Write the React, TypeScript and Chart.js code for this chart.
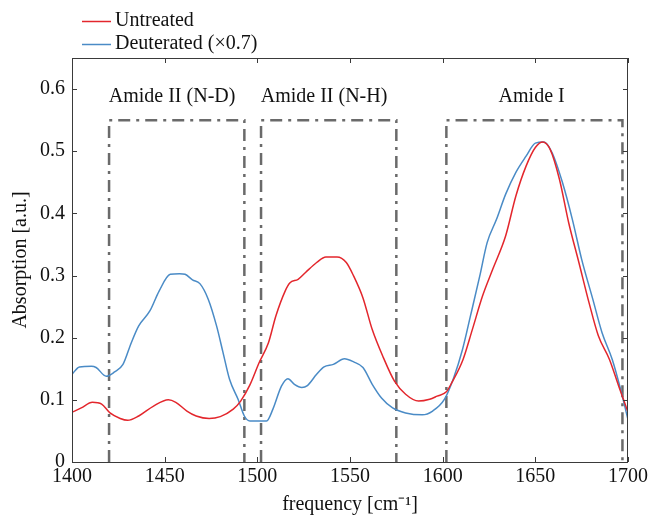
import React, { useEffect, useRef } from "react";
import { Chart, registerables } from "chart.js";

Chart.register(...registerables);

const seriesNames = ["Untreated", "Deuterated (\u00d70.7)"];

const untreatedFreq = [
  1400, 1405, 1411, 1416, 1420.5, 1426, 1430, 1436, 1444, 1452, 1456, 1462, 1467, 1474, 1480, 1487, 1491,
  1496, 1501, 1506, 1510, 1515, 1517.5, 1522, 1526, 1532, 1537, 1543, 1548, 1552, 1557, 1562, 1568, 1574,
  1580, 1587, 1593, 1597, 1602, 1605, 1611, 1616, 1621.5, 1627, 1634, 1639.5, 1645, 1650, 1654, 1658, 1663,
  1668, 1673.5, 1679, 1684, 1690, 1695, 1700,
];
const untreatedAbs = [
  0.08, 0.087, 0.096, 0.093, 0.079, 0.07, 0.067, 0.074, 0.09, 0.1, 0.096, 0.082, 0.074, 0.07, 0.073, 0.085, 0.098,
  0.124, 0.16, 0.192, 0.235, 0.275, 0.288, 0.294, 0.305, 0.321, 0.33, 0.33, 0.321, 0.299, 0.264, 0.213, 0.168, 0.13,
  0.109, 0.098, 0.101, 0.106, 0.113, 0.128, 0.165, 0.213, 0.267, 0.31, 0.364, 0.428, 0.476, 0.506, 0.515, 0.503, 0.455,
  0.385, 0.321, 0.256, 0.203, 0.165, 0.122, 0.08,
];

const deuteratedFreq = [
  1400, 1404, 1410.5, 1413, 1418.5, 1423, 1427.5, 1432, 1436, 1442, 1447, 1453, 1458, 1461, 1465, 1469, 1473.5,
  1478, 1481.5, 1485, 1489.6, 1493, 1496, 1501, 1505, 1508.4, 1513, 1516.5, 1520, 1524, 1527, 1532, 1536, 1541,
  1547, 1552, 1557, 1562, 1567, 1573, 1580, 1589, 1594.6, 1601, 1606, 1610.7, 1615, 1620, 1624, 1629, 1634,
  1639.5, 1645, 1650, 1654.7, 1659, 1664.6, 1670, 1675, 1681, 1686, 1691.5, 1696, 1700,
];
const deuteratedAbs = [
  0.141, 0.153, 0.154, 0.152, 0.138, 0.145, 0.157, 0.192, 0.219, 0.243, 0.275, 0.302, 0.303, 0.302, 0.293, 0.287, 0.262,
  0.219, 0.176, 0.133, 0.101, 0.074, 0.066, 0.066, 0.066, 0.085, 0.122, 0.134, 0.125, 0.12, 0.123, 0.141, 0.153, 0.157,
  0.166, 0.161, 0.152, 0.125, 0.103, 0.087, 0.079, 0.076, 0.082, 0.101, 0.136, 0.181, 0.235, 0.299, 0.353, 0.39, 0.431,
  0.466, 0.492, 0.513, 0.515, 0.498, 0.45, 0.39, 0.326, 0.262, 0.208, 0.165, 0.117, 0.068,
];

const xTicks = [1400, 1450, 1500, 1550, 1600, 1650, 1700];
const yTicks = [0, 0.1, 0.2, 0.3, 0.4, 0.5, 0.6];
const yTickLabels = ["0", "0.1", "0.2", "0.3", "0.4", "0.5", "0.6"];

const regionNames = ["Amide II (N-D)", "Amide II (N-H)", "Amide I"];
const regionStart = [1420, 1502, 1602];
const regionEnd = [1493, 1575, 1697];
const regionTop = [0.55, 0.55, 0.55];
const regionLabelX = [1454, 1536, 1648];
const regionLabelY = [0.587, 0.587, 0.587];

const FONT = '"Liberation Serif", "Times New Roman", serif';
const RED = "#e3262c";
const BLUE = "#4a8bc6";
const BOX = "#6a6a6a";

const decorPlugin = {
  id: "decor",
  afterDatasetsDraw(chart: any) {
    const { ctx, chartArea, scales } = chart;
    const { left, right, top, bottom } = chartArea;
    const x = scales.x;
    const y = scales.y;
    ctx.save();
    // region labels
    ctx.font = `20px ${FONT}`;
    ctx.fillStyle = "#111";
    ctx.textAlign = "center";
    ctx.textBaseline = "middle";
    regionNames.forEach((n, i) => {
      ctx.fillText(n, x.getPixelForValue(regionLabelX[i]), y.getPixelForValue(regionLabelY[i]));
    });
    // frame
    ctx.strokeStyle = "#3a3a3a";
    ctx.lineWidth = 1;
    ctx.strokeRect(Math.round(left) + 0.5, Math.round(top) + 0.5, Math.round(right - left) - 1, Math.round(bottom - top));
    // ticks inward
    const tl = 5;
    ctx.beginPath();
    xTicks.forEach((v) => {
      const px = Math.round(x.getPixelForValue(v)) + 0.5;
      ctx.moveTo(px, bottom);
      ctx.lineTo(px, bottom - tl);
      ctx.moveTo(px, top);
      ctx.lineTo(px, top + tl);
    });
    yTicks.forEach((v) => {
      const py = Math.round(y.getPixelForValue(v)) + 0.5;
      ctx.moveTo(left, py);
      ctx.lineTo(left + tl, py);
      ctx.moveTo(right, py);
      ctx.lineTo(right - tl, py);
    });
    ctx.stroke();
    ctx.restore();
  },
  afterDraw(chart: any) {
    const { ctx } = chart;
    ctx.save();
    ctx.font = `20px ${FONT}`;
    ctx.textAlign = "left";
    ctx.textBaseline = "middle";
    const rows = [21, 44];
    chart.data.datasets.slice(0, 2).forEach((ds: any, i: number) => {
      const yy = rows[i];
      ctx.strokeStyle = ds.borderColor;
      ctx.lineWidth = 1.5;
      ctx.beginPath();
      ctx.moveTo(82, yy + 0.5);
      ctx.lineTo(111, yy + 0.5);
      ctx.stroke();
      ctx.fillStyle = "#111";
      ctx.fillText(ds.label, 115, yy);
    });
    ctx.restore();
  },
};

export default function App() {
  const ref = useRef<HTMLCanvasElement | null>(null);
  useEffect(() => {
    if (!ref.current) return;
    const boxDatasets = regionNames.map((n, i) => ({
      label: n,
      data: [
        { x: regionStart[i], y: 0 },
        { x: regionStart[i], y: regionTop[i] },
        { x: regionEnd[i], y: regionTop[i] },
        { x: regionEnd[i], y: 0 },
      ],
      borderColor: BOX,
      borderWidth: 2.5,
      borderDash: [12, 6, 3, 6],
      pointRadius: 0,
      tension: 0,
      fill: false,
    }));
    const chart = new Chart(ref.current, {
      type: "line",
      data: {
        datasets: [
          {
            label: seriesNames[0],
            data: untreatedFreq.map((f, i) => ({ x: f, y: untreatedAbs[i] })),
            borderColor: RED,
            borderWidth: 1.5,
            pointRadius: 0,
            cubicInterpolationMode: "monotone",
            fill: false,
          },
          {
            label: seriesNames[1],
            data: deuteratedFreq.map((f, i) => ({ x: f, y: deuteratedAbs[i] })),
            borderColor: BLUE,
            borderWidth: 1.5,
            pointRadius: 0,
            cubicInterpolationMode: "monotone",
            fill: false,
          },
          ...boxDatasets,
        ] as any,
      },
      options: {
        responsive: false,
        maintainAspectRatio: false,
        animation: false,
        devicePixelRatio: 1,
        layout: { padding: { left: 0, right: 22, top: 58, bottom: 0 } },
        plugins: { legend: { display: false }, tooltip: { enabled: false } },
        scales: {
          x: {
            type: "linear",
            min: 1400,
            max: 1700,
            grid: { display: false, drawTicks: false },
            border: { display: false },
            afterBuildTicks: (s: any) => {
              s.ticks = xTicks.map((v) => ({ value: v }));
            },
            afterFit: (s: any) => {
              s.height = 56;
            },
            ticks: {
              padding: 3,
              maxRotation: 0,
              autoSkip: false,
              color: "#111",
              font: { family: FONT, size: 20 },
              callback: (v: any) => String(v),
            },
            title: {
              display: true,
              text: "frequency [cm\u207b\u00b9]",
              color: "#111",
              font: { family: FONT, size: 20 },
              padding: { top: 0, bottom: 1 },
            },
          },
          y: {
            type: "linear",
            min: 0,
            max: 0.65,
            grid: { display: false, drawTicks: false },
            border: { display: false },
            afterBuildTicks: (s: any) => {
              s.ticks = yTicks.map((v) => ({ value: v }));
            },
            afterFit: (s: any) => {
              s.width = 72;
            },
            ticks: {
              padding: 7,
              autoSkip: false,
              color: "#111",
              font: { family: FONT, size: 20 },
              callback: (v: any) => {
                const i = yTicks.findIndex((t) => Math.abs(t - v) < 1e-9);
                return i >= 0 ? yTickLabels[i] : "";
              },
            },
            title: {
              display: true,
              text: "Absorption [a.u.]",
              color: "#111",
              font: { family: FONT, size: 20 },
              padding: { top: 9, bottom: 0 },
            },
          },
        },
      },
      plugins: [decorPlugin],
    } as any);
    return () => chart.destroy();
  }, []);
  return (
    <div style={{ position: "absolute", left: 0, top: 0, width: 651, height: 518, background: "#fff" }}>
      <canvas ref={ref} width={651} height={518} style={{ display: "block", width: 651, height: 518 }} />
    </div>
  );
}
